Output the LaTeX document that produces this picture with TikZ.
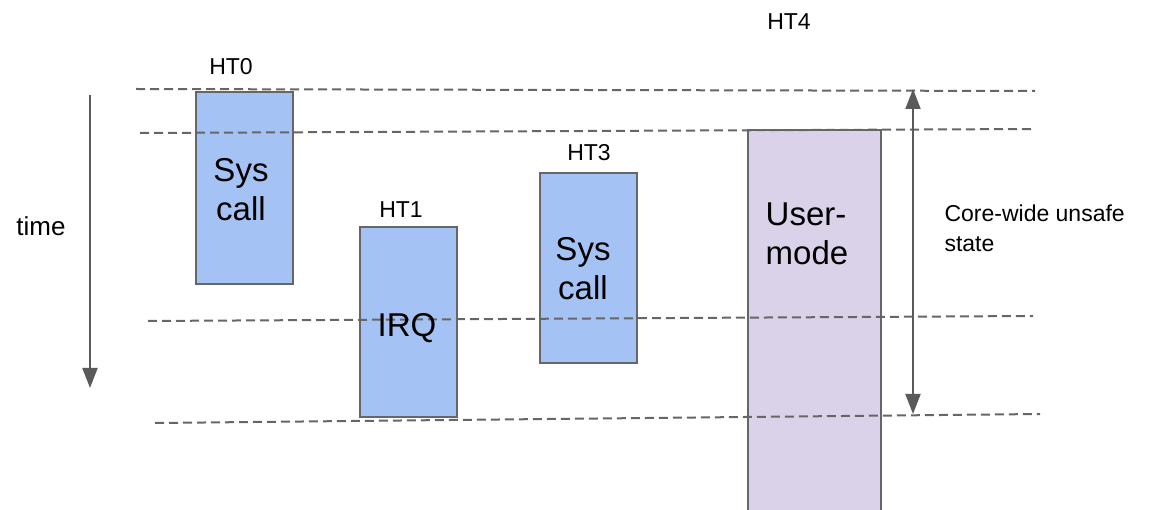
\documentclass[tikz,border=0pt]{standalone}
\usepackage{fontspec}
\setmainfont{Liberation Sans}
\usetikzlibrary{arrows.meta}

\definecolor{htblue}{HTML}{A4C2F4}
\definecolor{htpurple}{HTML}{D9D2E9}
\definecolor{htgray}{HTML}{666666}
\definecolor{arrgray}{HTML}{5A5A5A}

\tikzset{
	htbox/.style={rectangle, draw=htgray, line width=2pt, fill=htblue, anchor=north west, inner sep=0pt},
	htlabel/.style={font=\fontsize{23}{26}\selectfont},
	boxtext/.style={font=\fontsize{33}{39}\selectfont, align=center},
	guide/.style={draw=htgray, dash pattern=on 9pt off 5pt, line width=2pt},
	timearrow/.style={draw=arrgray, line width=2pt, -{Triangle[width=15pt,length=20pt]}}
}

\begin{document}
\begin{tikzpicture}[x=1pt,y=-1pt]
	\clip (0,0) rectangle (1160,510);
	% boxes
	\node [htbox, minimum width=97pt, minimum height=192pt] (ht0) at (195,91) {};
	\node [htbox, minimum width=97pt, minimum height=190pt] (ht1) at (359,226) {};
	\node [htbox, minimum width=97pt, minimum height=190pt] (ht3) at (539,172) {};
	\node [htbox, fill=htpurple, minimum width=133pt, minimum height=400pt] (ht4) at (747,129) {};
	% dashed lines
	\foreach \xa/\ya/\xb/\yb in {
		136/89/1035/91, 140/133/1033/129, 148/321/1033/316, 155/423/1040/414}
	\draw [guide] (\xa,\ya) -- (\xb,\yb);
	% box texts
	\node [boxtext] (sys0) at (241,190) {Sys\\call};
	\node [boxtext] (irq) at (407,328) {IRQ};
	\node [boxtext] (sys3) at (583,269) {Sys\\call};
	\node [boxtext, align=left] (um) at (807,234) {User-\\mode};
	% labels
	\node [htlabel] (l0) at (231,67) {HT0};
	\node [htlabel] (l1) at (401,210) {HT1};
	\node [htlabel] (l3) at (589,153) {HT3};
	\node [htlabel] (l4) at (789,22) {HT4};
	\node [font=\fontsize{26}{28}\selectfont] (time) at (41,226) {time};
	\node [font=\fontsize{23}{30}\selectfont, align=left, anchor=west] (unsafe) at (941,228) {Core-wide unsafe\\state};
	% arrows
	\coordinate (t0) at (90,95);
	\coordinate (t1) at (90,388);
	\coordinate (u0) at (913,89);
	\coordinate (u1) at (913,414);
	\draw [timearrow] (t0) -- (t1);
	\draw [timearrow, {Triangle[width=15pt,length=20pt]}-{Triangle[width=15pt,length=20pt]}] (u0) -- (u1);
\end{tikzpicture}
\end{document}
